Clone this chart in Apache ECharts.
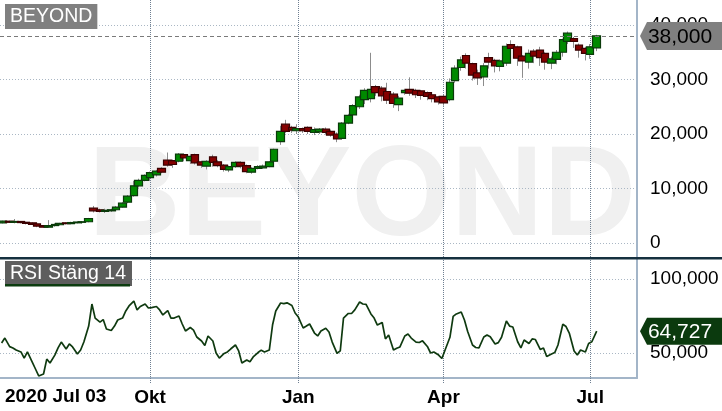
<!DOCTYPE html>
<html><head><meta charset="utf-8">
<script src="https://cdn.jsdelivr.net/npm/echarts@6/dist/echarts.min.js"></script>
<style>html,body{margin:0;padding:0;background:#fff}#c{width:722px;height:411px}</style>
</head><body><div id="c"></div>
<script>
// ---- data ----
const axisStart = '2020-06-30';
const axisEnd = '2021-07-30';
const candleFirst = '2020-07-02', candleLast = '2021-07-05';   // Mon/Thu samples
const rsiFirst = '2020-07-01', rsiLast = '2021-07-05';         // Mon/Wed/Fri samples
const candleOpen = [3.7,4.0,3.8,3.95,3.8,3.7,3.5,3.2,2.9,3.2,
  3.35,3.7,3.55,3.7,3.8,3.9,6.4,6.1,5.8,5.9,
  6.1,6.6,7.5,8.7,10.5,11.5,12.0,12.5,13.7,15.2,
  15.1,15.0,16.2,15.1,16.2,14.9,14.1,15.8,14.9,14.3,
  13.4,14.0,14.8,14.2,13.0,13.7,13.8,14.0,15.0,18.6,
  21.8,21.2,20.6,21.0,21.2,20.3,20.4,20.9,20.5,20.0,
  19.2,22.0,23.5,25.0,26.3,26.5,28.7,28.4,27.8,27.3,
  25.4,27.6,28.2,28.0,27.9,27.6,27.2,26.8,26.9,26.3,
  29.8,32.2,34.4,32.9,31.2,30.5,34.0,33.5,32.4,33.0,
  36.4,36.0,34.3,33.2,35.2,35.4,34.8,33.0,33.7,35.0,
  37.0,37.5,36.3,35.7,34.6,35.8];
const candleClose = [4.0,3.8,3.95,3.75,3.6,3.4,3.1,2.9,3.2,3.4,
  3.6,3.55,3.75,3.85,3.9,4.5,5.9,5.8,6.0,6.1,
  6.6,7.3,8.6,10.5,11.5,12.4,12.9,13.2,13.0,14.3,
  14.4,16.3,15.6,15.9,14.7,14.3,15.0,14.8,14.2,13.5,
  14.0,14.8,14.1,13.1,13.7,14.0,14.1,14.9,17.2,20.5,
  20.5,20.7,21.0,20.6,20.5,20.8,20.9,20.3,19.8,19.1,
  22.0,23.4,25.2,26.8,28.0,28.2,27.6,27.0,26.2,25.6,
  26.6,28.0,27.5,27.2,27.1,26.9,26.5,25.9,25.7,29.5,
  32.1,33.6,33.0,30.8,30.3,32.5,33.2,32.5,33.4,36.1,
  35.7,33.9,33.4,34.8,34.3,34.0,33.2,33.8,35.0,37.3,
  38.5,37.0,35.4,34.8,36.0,38.0];
const candleLow = [3.6,3.7,3.6,3.6,3.4,3.3,2.9,2.8,2.8,3.0,
  3.2,3.4,3.4,3.6,3.6,3.8,5.6,5.6,5.5,5.7,
  6.0,6.5,7.3,8.5,10.2,11.3,11.4,12.2,12.8,14.0,
  13.8,14.8,15.0,14.5,14.4,13.8,13.5,14.0,13.9,13.1,
  13.0,13.8,13.7,12.8,12.7,13.5,13.6,13.9,14.8,18.0,
  20.2,20.2,20.0,20.2,20.0,19.8,20.0,19.9,19.5,18.5,
  18.9,21.8,23.0,24.6,25.5,25.8,27.0,26.0,25.5,24.8,
  24.2,27.2,27.0,26.6,26.3,26.2,25.8,25.4,25.2,26.0,
  29.4,31.6,32.0,29.8,29.0,28.8,32.0,31.3,31.5,32.5,
  34.5,32.5,30.3,32.0,33.0,32.5,31.8,31.9,32.8,34.2,
  36.5,35.8,34.0,33.5,33.8,35.2];
const candleHigh = [4.1,4.1,4.4,4.0,3.9,3.8,3.6,3.3,4.2,3.6,
  3.7,3.8,3.9,4.0,4.0,4.6,6.8,6.3,6.3,6.3,
  6.8,7.5,8.8,11.4,11.8,12.6,13.1,13.4,13.9,16.6,
  15.3,16.5,16.5,16.3,16.4,15.1,15.2,16.2,15.2,14.5,
  14.2,15.0,15.0,14.4,13.9,14.3,14.4,15.0,17.3,21.5,
  22.6,21.5,21.8,21.2,21.4,21.2,21.1,21.2,20.8,20.3,
  22.2,23.7,25.5,27.2,28.4,34.9,29.0,28.8,29.4,27.7,
  27.0,28.3,30.4,28.3,28.1,27.8,27.5,27.0,27.2,30.2,
  32.6,34.2,34.8,33.1,31.8,33.0,34.9,33.8,33.7,36.6,
  37.2,36.2,34.5,35.5,35.6,36.0,35.0,34.2,35.4,37.5,
  38.8,37.8,36.6,36.0,36.5,38.2];
const rsiValues = [56.8,60.1,
  54.3,53.4,52.0, 50.7,46.6,50.7, 43.9,39.2,34.5, 35.8,45.9,43.2, 48.6,53.4,57.4,
  52.7,56.1,54.1, 49.3,52.0,57.4, 68.2,83.1,73.6, 70.9,72.6,66.2, 65.2,68.2,72.3,
  73.6,78.4,81.8, 85.1,79.1,81.4, 83.1,80.4,80.7, 81.4,79.1,75.7, 78.7,73.6,73.6,
  75.0,69.6,64.9, 67.2,65.5,60.8, 58.1,55.1,61.5, 58.1,50.0,46.6, 49.7,50.7,52.7,
  55.4,51.4,43.2, 45.3,44.1,47.3, 50.3,51.9,50.7, 52.0,68.9,78.4, 83.8,83.4,83.9,
  82.1,77.0,74.3, 66.9,68.2,69.6, 63.5,61.5,64.9, 66.7,64.2,57.4, 49.8,51.4,73.6,
  76.7,76.7,79.1, 84.5,83.1,82.8, 76.4,73.6,68.9, 70.6,59.5,62.2, 52.0,53.2,54.1,
  61.5,62.8,60.1, 57.4,57.1,58.2, 54.4,50.0,50.7, 48.6,46.3,52.0, 60.6,74.7,76.4,
  77.7,72.3,64.5, 55.4,53.7,53.4, 60.8,62.2,61.0, 56.1,57.0,60.6, 71.6,68.2,67.6,
  57.6,53.4,58.8, 56.4,59.5,59.1, 52.4,53.4,47.6, 49.3,50.3,55.4, 69.4,67.9,63.5,
  51.4,48.6,52.0, 50.7,56.4,57.6, 64.727];
const priceAxis = {min: 0, max: 40, interval: 10};
const rsiAxis = {min: 50, max: 100, interval: 50};
const quarterLabels = {'2020-10-01': 'Okt', '2021-01-01': 'Jan', '2021-04-01': 'Apr', '2021-07-01': 'Jul'};
const startLabel = '2020 Jul 03';
const lastPrice = 38.0;
const lastRsi = 64.727;
const titleMain = 'BEYOND';
const titleRsi = 'RSI Stäng 14';

// ---- helpers ----
function iso(d) { return d.toISOString().slice(0, 10); }
function dayList(from, to, weekdays) {
  const out = [];
  let t = Date.parse(from + 'T00:00:00Z');
  const e = Date.parse(to + 'T00:00:00Z');
  while (t <= e) {
    const d = new Date(t);
    if (!weekdays || weekdays.indexOf(d.getUTCDay()) >= 0) out.push(iso(d));
    t += 86400000;
  }
  return out;
}
const fmt3 = v => v === 0 ? '0' : Number(v).toFixed(3).replace('.', ',');

const calendarDays = dayList(axisStart, axisEnd);
const candleDates = dayList(candleFirst, candleLast, [1, 4]);
const rsiDates = dayList(rsiFirst, rsiLast, [1, 3, 5]);

const wickRows = candleDates.map((d, i) => [d, candleOpen[i], candleClose[i], candleLow[i], candleHigh[i]]);
const bodyRows = candleDates.map((d, i) => [d, candleOpen[i], candleClose[i],
  Math.min(candleOpen[i], candleClose[i]), Math.max(candleOpen[i], candleClose[i])]);
const rsiRows = rsiDates.map((d, i) => [d, rsiValues[i]]);

const FONT = '"Liberation Sans", Arial, sans-serif';
const vGrid = '#6f7f91';
const axisBlue = '#a3b5c8';
const hGrid = '#aab7c4';

const chart = echarts.init(document.getElementById('c'), null, {renderer: 'canvas'});
chart.setOption({
  animation: false,
  backgroundColor: '#ffffff',
  textStyle: {fontFamily: FONT},
  title: [
    {text: titleMain, left: 5, top: 4, backgroundColor: '#808080', padding: [2, 5, 2, 5],
     textStyle: {color: '#ffffff', fontSize: 19.5, lineHeight: 21, fontWeight: 'normal', fontFamily: FONT}},
    {text: titleRsi, left: 5, top: 261, backgroundColor: '#5e5e5e', padding: [2, 6, 2, 5],
     textStyle: {color: '#ffffff', fontSize: 19.5, lineHeight: 21, fontWeight: 'normal', fontFamily: FONT}}
  ],
  grid: [
    {left: 0, top: 25, width: 637, height: 218},
    {left: 0, top: 279, width: 637, height: 74},
    {left: 0, top: 0, width: 637, height: 378}
  ],
  xAxis: [
    {type: 'time', gridIndex: 0, min: axisStart, max: axisEnd, show: false},
    {type: 'time', gridIndex: 1, min: axisStart, max: axisEnd, show: false},
    {type: 'category', gridIndex: 2, data: calendarDays, boundaryGap: false,
     axisLine: {show: true, onZero: false, lineStyle: {color: axisBlue, width: 2}},
     axisTick: {show: true, length: 6, interval: (i, v) => !!quarterLabels[v],
       lineStyle: {color: vGrid, type: [1, 1], width: 1}},
     axisLabel: {show: true, interval: (i, v) => !!quarterLabels[v], formatter: v => quarterLabels[v] || '',
       margin: 10, color: '#000', fontSize: 19, fontWeight: 'bold', fontFamily: FONT},
     splitLine: {show: true, interval: (i, v) => !!quarterLabels[v],
       lineStyle: {color: vGrid, type: [1, 1], width: 1}}}
  ],
  yAxis: [
    {type: 'value', gridIndex: 0, position: 'right', min: priceAxis.min, max: priceAxis.max, interval: priceAxis.interval,
     axisLine: {show: false}, axisTick: {show: false},
     axisLabel: {formatter: fmt3, margin: 13, color: '#000', fontSize: 19, fontFamily: FONT},
     splitLine: {show: true, lineStyle: {color: hGrid, type: [1, 2], width: 1}}},
    {type: 'value', gridIndex: 1, position: 'right', min: rsiAxis.min, max: rsiAxis.max, interval: rsiAxis.interval,
     axisLine: {show: false}, axisTick: {show: false},
     axisLabel: {formatter: fmt3, margin: 13, color: '#000', fontSize: 19, fontFamily: FONT},
     splitLine: {show: true, lineStyle: {color: hGrid, type: [1, 2], width: 1}}},
    {type: 'value', gridIndex: 2, position: 'right', min: 0, max: 1,
     axisLine: {show: true, onZero: false, lineStyle: {color: axisBlue, width: 2}},
     axisTick: {show: false}, axisLabel: {show: false}, splitLine: {show: false}}
  ],
  graphic: [
    {type: 'text', z: -1, silent: true,
     style: {text: titleMain, x: 362, y: 200, textAlign: 'center', textVerticalAlign: 'middle',
       align: 'center', verticalAlign: 'middle',
       font: 'bold 128px "Liberation Sans", Arial, sans-serif', fill: '#f0f0f0'}},
    {type: 'rect', z: 10, silent: true, shape: {x: 0, y: 257, width: 722, height: 2.5}, style: {fill: '#15303f'}},
    {type: 'rect', z: 10, silent: true, shape: {x: 5, y: 284, width: 125, height: 2.5}, style: {fill: '#0d3d10'}},
    {type: 'text', z: 10, silent: true,
     style: {text: startLabel, x: 5, y: 397, textAlign: 'left', textVerticalAlign: 'middle',
       align: 'left', verticalAlign: 'middle',
       font: 'bold 19px "Liberation Sans", Arial, sans-serif', fill: '#000'}}
  ],
  series: [
    {type: 'candlestick', name: 'wick', xAxisIndex: 0, yAxisIndex: 0, data: wickRows, barWidth: 1,
     silent: true,
     itemStyle: {color: '#8c8c8c', color0: '#8c8c8c', borderColor: '#8c8c8c', borderColor0: '#8c8c8c', borderWidth: 1}},
    {type: 'candlestick', name: 'body', xAxisIndex: 0, yAxisIndex: 0, data: bodyRows, barWidth: 8,
     silent: true,
     itemStyle: {color: '#008a00', color0: '#850000', borderColor: '#0a3a0a', borderColor0: '#3a0000', borderWidth: 1.2},
     markLine: {silent: true, symbol: 'none', data: [{yAxis: lastPrice}],
       lineStyle: {color: '#7a7a7a', type: [4, 3], width: 1}, label: {show: false}},
     markPoint: {silent: true, data: [{coord: [axisEnd, lastPrice]}],
       symbol: 'path://M0,14L7,0L82,0L82,28L7,28Z', symbolSize: [82, 28], symbolOffset: [44, 0],
       itemStyle: {color: '#808080'},
       label: {show: true, position: 'inside', formatter: fmt3(lastPrice), color: '#000', fontSize: 21,
         fontFamily: FONT, offset: [-1, 1]}}},
    {type: 'line', name: 'RSI', xAxisIndex: 1, yAxisIndex: 1, data: rsiRows, symbol: 'none', clip: false,
     silent: true,
     lineStyle: {color: '#0f3a10', width: 1.7},
     markPoint: {silent: true, data: [{coord: [axisEnd, lastRsi]}],
       symbol: 'path://M0,14L7,0L82,0L82,28L7,28Z', symbolSize: [82, 27], symbolOffset: [44, 0],
       itemStyle: {color: '#0b3a0e'},
       label: {show: true, position: 'inside', formatter: fmt3(lastRsi), color: '#fff', fontSize: 21,
         fontFamily: FONT, offset: [-1, 1]}}}
  ]
});
</script>
</body></html>
